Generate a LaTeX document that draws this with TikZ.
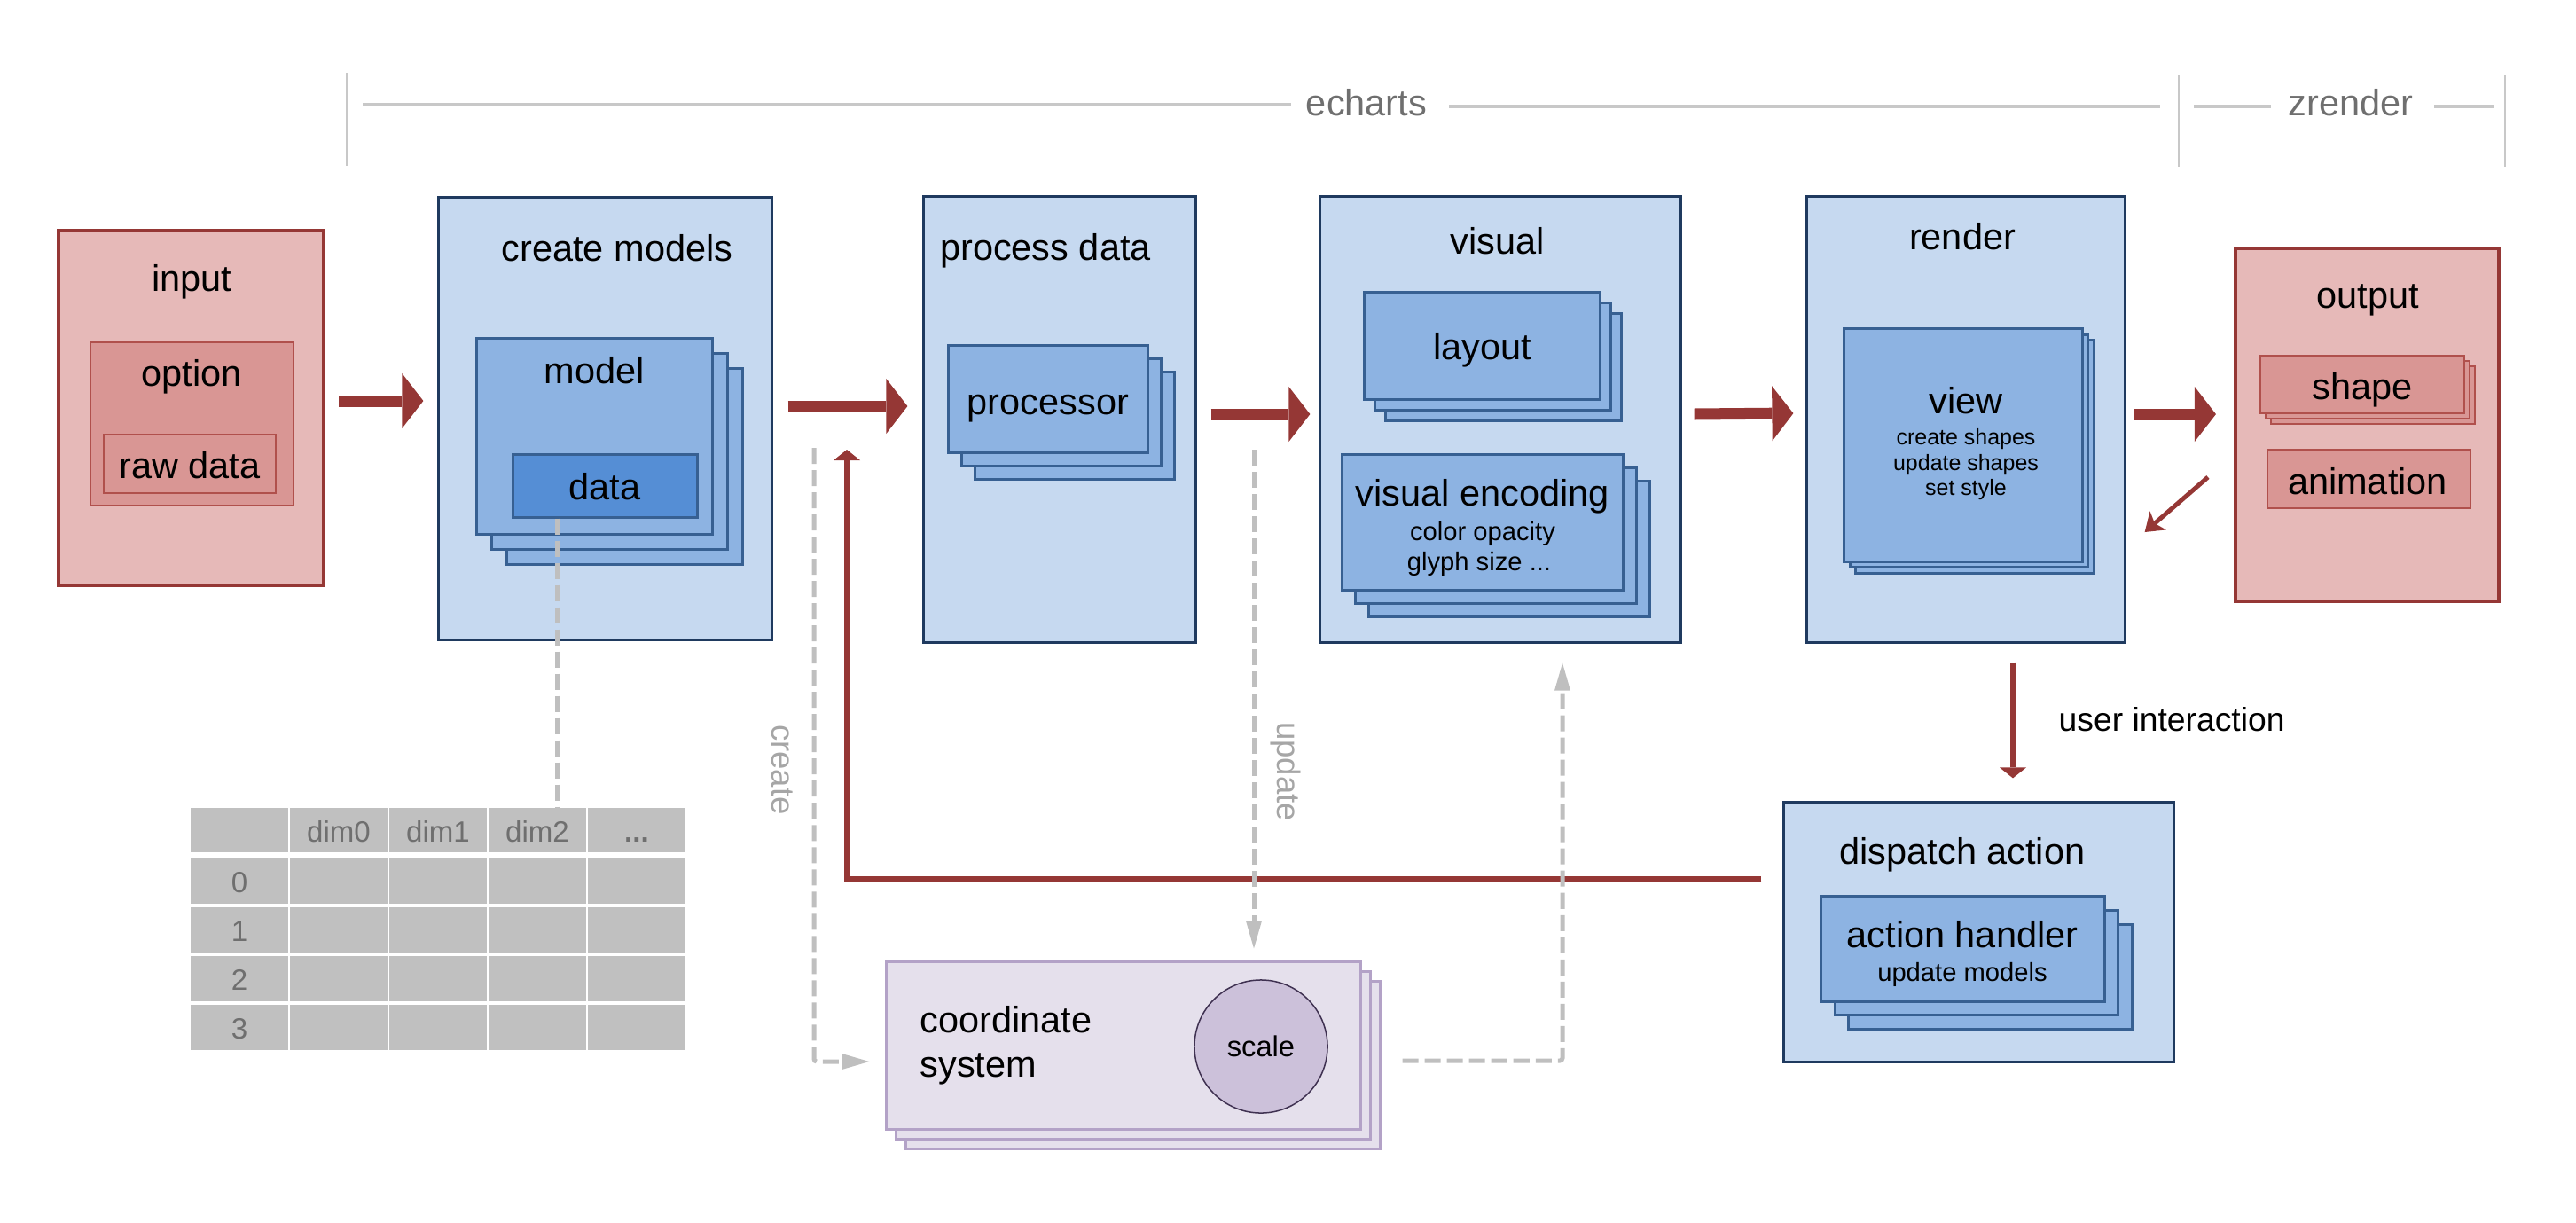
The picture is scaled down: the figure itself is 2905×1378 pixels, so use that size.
\documentclass[tikz,border=0pt]{standalone}
\usepackage{fontspec}
\setmainfont{Liberation Sans}
\usetikzlibrary{arrows.meta,positioning,calc,shadows}

\definecolor{boardfill}{HTML}{C6D9F0}
\definecolor{boardedge}{HTML}{1F3A5F}
\definecolor{cardfill}{HTML}{8DB3E2}
\definecolor{cardedge}{HTML}{376092}
\definecolor{datafill}{HTML}{558ED5}
\definecolor{pinkfill}{HTML}{E6B9B8}
\definecolor{pinkedge}{HTML}{953735}
\definecolor{rosefill}{HTML}{D99694}
\definecolor{roseedge}{HTML}{B0504C}
\definecolor{lilacfill}{HTML}{E5E0EC}
\definecolor{lilacedge}{HTML}{B3A2C7}
\definecolor{scalefill}{HTML}{CCC1DA}
\definecolor{scaleedge}{HTML}{3F3151}
\definecolor{flowred}{HTML}{953735}
\definecolor{dashgrey}{HTML}{BFBFBF}
\definecolor{cellgrey}{HTML}{C0C0C0}
\definecolor{inkgrey}{HTML}{6F6F6F}
\definecolor{labelgrey}{HTML}{A6A6A6}
\definecolor{rulegrey}{HTML}{C8C8C8}
\newcommand\tabdots{\textbf{...}}

\begin{document}
\begin{tikzpicture}[x=0.01cm,y=-0.01cm,
    every node/.style={inner sep=0pt,font=\fontsize{11.8}{14}\selectfont},
    dims/.style 2 args={minimum width=#1,minimum height=#2},
    board/.style={draw=boardedge,fill=boardfill,line width=0.03cm},
    pinkboard/.style={draw=pinkedge,fill=pinkfill,line width=0.04cm},
    rosebox/.style={draw=roseedge,fill=rosefill,line width=0.02cm},
    card/.style={draw=cardedge,fill=cardfill,line width=0.03cm},
    deck/.style={copy shadow={shadow xshift=2*#1,shadow yshift=-2*#1},
                 copy shadow={shadow xshift=#1,shadow yshift=-#1}},
    txt/.style={anchor=base},
    note/.style={anchor=base,font=\fontsize{8.3}{10}\selectfont},
    fine/.style={anchor=base,font=\fontsize{7.1}{9}\selectfont},
    cell/.style={fill=cellgrey,dims={1.10cm}{0.51cm},text=inkgrey,text height=0.26cm,text depth=0cm,font=\fontsize{9.4}{11}\selectfont},
    flow/.style={draw=flowred,line width=0.13cm,-{Triangle[length=0.24cm,width=0.62cm,line width=0pt]}},
    back/.style={draw=flowred,line width=0.06cm,-{Triangle[length=0.12cm,width=0.30cm,line width=0pt]}},
    thinback/.style={draw=flowred,line width=0.05cm,-{Stealth[length=0.2cm,width=0.28cm,inset=0.05cm,line width=0pt]}},
    greydash/.style={draw=dashgrey,line width=0.05cm,dash pattern=on 0.18cm off 0.07cm,-{Triangle[length=0.31cm,width=0.18cm,line width=0pt]}},
    side/.style={text=labelgrey,rotate=-90,font=\fontsize{10.4}{12}\selectfont},
    brand/.style={anchor=base,text=inkgrey},
    band/.style={draw=rulegrey,line width=0.04cm},
    tick/.style={draw=rulegrey,line width=0.025cm}]
  \useasboundingbox (0,0) rectangle (2905,1378);

  % library bands
  \node[brand] (ec) at (1541,130) {echarts};
  \node[brand] (zr) at (2651,130) {zrender};
  \draw[tick] (391,82) -- (391,187);
  \draw[tick] (2457,85) -- (2457,188);
  \draw[tick] (2825,85) -- (2825,188);
  \draw[band] (409,118) -- (1456,118);
  \draw[band] (1634,120) -- (2436,120);
  \draw[band] (2474,120) -- (2561,120);
  \draw[band] (2745,120) -- (2813,120);

  % input
  \node[pinkboard,dims={2.99cm}{4.00cm}] (in) at (215.5,460) {};
  \node[rosebox,dims={2.29cm}{1.84cm}] (op) at (216.5,478) {};
  \node[rosebox,dims={1.94cm}{0.66cm}] (rd) at (214,523) {};
  \node[txt] (in-t) at (216,328) {input};
  \node[txt] (op-t) at (216,435) {option};
  \node[txt] (rd-t) at (214,539) {raw data};

  % create models
  \node[board,dims={3.75cm}{4.98cm}] (cm) at (682.5,472) {};
  \node[card,deck=0.17cm,dims={2.65cm}{2.20cm}] (mo) at (670.5,492) {};
  \node[card,fill=datafill,dims={2.07cm}{0.70cm}] (da) at (682.5,548) {};
  \node[txt] (cm-t) at (696,294) {create models};
  \node[txt] (mo-t) at (670,432) {model};
  \node[txt] (da-t) at (682,563) {data};

  % process data
  \node[board,dims={3.06cm}{5.02cm}] (pd) at (1195,473) {};
  \node[card,deck=0.15cm,dims={2.24cm}{1.20cm}] (pr) at (1182,450) {};
  \node[txt] (pd-t) at (1179,293) {process data};
  \node[txt] (pr-t) at (1182,467) {processor};

  % visual
  \node[board,dims={4.06cm}{5.02cm}] (vis) at (1692,473) {};
  \node[card,deck=0.12cm,dims={2.65cm}{1.20cm}] (la) at (1671.5,390) {};
  \node[card,deck=0.15cm,dims={3.16cm}{1.52cm}] (ve) at (1672,589) {};
  \node[txt] (vis-t) at (1689,286) {visual};
  \node[txt] (la-t) at (1672,405) {layout};
  \node[txt] (ve-t) at (1672,570) {visual encoding};
  \node[note] (ve-a) at (1672,609) {color opacity};
  \node[note] (ve-b) at (1668,643) {glyph size ...};

  % render
  \node[board,dims={3.58cm}{5.02cm}] (ren) at (2217,473) {};
  \node[card,deck=0.065cm,dims={2.68cm}{2.62cm}] (vw) at (2214,502) {};
  \node[txt] (ren-t) at (2213,281) {render};
  \node[txt] (vw-t) at (2217,466) {view};
  \node[fine] (vw-a) at (2217,501) {create shapes};
  \node[fine] (vw-b) at (2217,530) {update shapes};
  \node[fine] (vw-c) at (2217,558) {set style};

  % output
  \node[pinkboard,dims={2.97cm}{3.98cm}] (out) at (2669.5,479) {};
  \node[rosebox,deck=0.06cm,dims={2.30cm}{0.65cm}] (sh) at (2664,433.5) {};
  \node[rosebox,dims={2.29cm}{0.66cm}] (an) at (2671.5,540) {};
  \node[txt] (out-t) at (2670,347) {output};
  \node[txt] (sh-t) at (2664,450) {shape};
  \node[txt] (an-t) at (2670,557) {animation};

  % dispatch action
  \node[board,dims={4.39cm}{2.92cm}] (disp) at (2231.5,1051) {};
  \node[card,deck=0.155cm,dims={3.19cm}{1.18cm}] (ah) at (2213.5,1070) {};
  \node[txt] (disp-t) at (2213,974) {dispatch action};
  \node[txt] (ah-t) at (2213,1068) {action handler};
  \node[note] (ah-a) at (2213,1106) {update models};
  \node[anchor=base west,font=\fontsize{10.6}{12}\selectfont] (ui) at (2321,824) {user interaction};

  % coordinate system
  \node[draw=lilacedge,fill=lilacfill,line width=0.03cm,deck=0.11cm,dims={5.34cm}{1.88cm}] (cs) at (1267,1179) {};
  \node[anchor=base west] (cs-a) at (1037,1164) {coordinate};
  \node[anchor=base west] (cs-b) at (1037,1214) {system};
  \node[circle,draw=scaleedge,fill=scalefill,line width=0.015cm,minimum size=1.5cm,font=\fontsize{9.3}{11}\selectfont] (sc) at (1422,1180) {scale};

  % data table
  \foreach \c/\h in {0/,1/dim0,2/dim1,3/dim2,4/\tabdots}
    \node[cell,minimum height=0.50cm] (t0\c) at (270+112*\c,936) {\h};
  \foreach \r/\n in {1/0,2/1,3/2,4/3}{
    \node[cell] (t\r0) at (270,938+55*\r) {\n};
    \foreach \c in {1,...,4}
      \node[cell] (t\r\c) at (270+112*\c,938+55*\r) {};
  }

  % main flow
  \draw[flow] ($(in.east)+(15,-8)$) -- ($(cm.west)+(-16,-20)$);
  \draw[flow] ($(cm.east)+(17,-14)$) -- ($(pd.west)+(-17,-15)$);
  \draw[flow] ($(pd.east)+(16,-6)$) -- ($(vis.west)+(-10,-6)$);
  \draw[flow] ($(vis.east)+(14,-6)$) -- ($(ren.west)+(-14,-7)$);
  \draw[flow] ($(ren.east)+(9,-6)$) -- ($(out.west)+(-20,-12)$);

  % interaction loop
  \coordinate (fb) at (955,507);
  \draw[back] ($(ren.south)+(53,22)$) -- ($(disp.north)+(38.5,-26)$);
  \draw[back] ($(disp.west)+(-24,-60)$) -| (fb);
  \draw[thinback] ($(out.west)+(-29,59)$) -- ($(ren.east)+(21,127)$);

  % coordinate system links
  \coordinate (cr) at (918,505);
  \coordinate (up) at (1414,507);
  \draw[greydash,rounded corners=0.03cm] (cr) |- ($(cs.west)+(-18,18)$);
  \draw[greydash,shorten >=0.14cm] (up) -- (up |- cs.north);
  \draw[greydash,rounded corners=0.03cm] ($(cs.east)+(46,17)$) -| ($(vis.south)+(70,22)$);
  \draw[greydash,arrows=-] ($(da.south)+(-54.5,0)$) coordinate (dd) -- (dd |- t03.north);
  \node[side] (cr-t) at (882,868) {create};
  \node[side] (up-t) at (1450,870) {update};
\end{tikzpicture}
\end{document}
